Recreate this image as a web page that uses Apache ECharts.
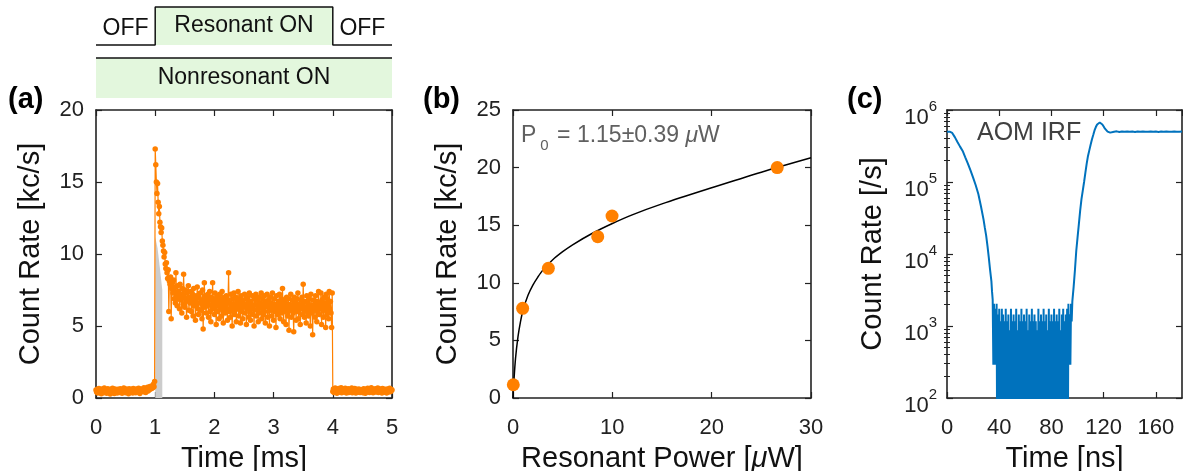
<!DOCTYPE html>
<html><head><meta charset="utf-8">
<script src="https://cdn.jsdelivr.net/npm/echarts@6/dist/echarts.min.js"></script>
<style>html,body{margin:0;padding:0;background:#fff}#c{width:1183px;height:471px}</style>
</head><body><div id="c"></div>
<script>
// ---------------- DATA ----------------
// (a) time trace, bins of 0.01 ms
const binWidthA = 0.01;
const offBeforeStart = 0.0;
const offBeforeRate = [
0.55,0.42,0.61,0.35,0.50,0.66,0.38,0.57,0.47,0.30,
0.62,0.45,0.53,0.36,0.69,0.48,0.41,0.58,0.33,0.55,
0.64,0.40,0.51,0.46,0.28,0.60,0.52,0.37,0.67,0.44,
0.56,0.31,0.63,0.49,0.42,0.58,0.35,0.61,0.47,0.54,
0.39,0.65,0.45,0.52,0.33,0.59,0.48,0.70,0.41,0.55,
0.36,0.62,0.50,0.44,0.57,0.29,0.64,0.46,0.53,0.40,
0.60,0.48,0.35,0.66,0.51,0.43,0.58,0.37,0.62,0.49,
0.54,0.41,0.68,0.45,0.32,0.59,0.52,0.63,0.47,0.56,
0.44,0.71,0.50,0.62,0.38,0.66,0.55,0.74,0.48,0.69,
0.58,0.80,0.62,0.77,0.66,0.85,0.72,0.95,0.78,1.15];
const onStart = 1.0;
const onRate = [
17.3,16.2,15.0,14.2,14.9,13.6,12.8,13.3,12.2,11.9,
11.5,11.8,10.9,10.6,10.2,9.8,10.1,9.3,9.0,9.4,
8.7,8.3,8.9,6.0,8.1,7.9,8.4,5.5,7.6,8.0,
7.3,8.2,6.9,7.7,6.6,8.7,7.1,6.4,7.8,6.9,
7.4,6.2,7.9,6.8,7.2,5.9,7.6,6.5,8.6,7.0,
6.3,7.5,6.7,5.6,7.3,6.9,7.8,6.1,7.0,6.6,
7.4,6.0,6.8,7.2,5.7,7.6,6.4,6.9,5.4,7.1,
6.5,7.7,6.2,5.8,7.0,6.6,7.3,6.1,6.8,5.5,
7.5,4.8,6.7,8.0,6.3,7.1,5.9,6.9,6.4,7.2,
5.6,6.8,7.4,6.0,5.3,7.0,6.5,8.0,6.2,6.9,
5.8,7.3,6.4,5.1,6.8,7.1,6.0,6.6,5.5,7.2,
6.3,6.9,5.7,7.4,6.1,5.2,6.7,7.0,5.9,6.5,
7.1,6.2,5.4,6.8,8.7,6.0,6.6,5.6,7.2,6.3,
5.0,6.9,6.5,7.3,5.8,6.1,7.0,5.3,6.7,6.2,
7.4,5.7,6.4,6.9,5.2,7.1,6.0,6.6,5.5,6.8,
6.3,7.2,5.9,6.5,5.1,7.0,6.2,6.8,5.6,7.3,
6.0,5.4,6.7,6.4,7.1,5.8,6.2,5.0,6.9,6.5,
7.2,5.7,6.1,6.8,5.3,7.0,6.4,5.9,6.6,7.3,
5.5,6.2,6.9,5.8,7.1,6.0,5.2,6.7,6.4,7.2,
5.6,6.3,6.8,5.0,7.0,6.1,6.6,5.7,7.3,6.2,
5.4,6.9,6.0,6.5,4.9,7.1,6.3,5.8,6.7,6.1,
7.2,5.5,6.4,6.9,5.9,7.6,6.2,5.3,6.8,6.0,
6.6,5.1,7.0,6.3,5.7,6.9,4.7,6.5,6.1,7.2,
5.6,6.4,6.8,5.9,4.6,7.0,6.2,6.6,5.4,6.9,
6.0,7.3,5.5,6.5,6.2,5.1,6.8,6.4,7.0,5.8,
7.9,6.1,5.6,6.7,6.3,5.2,7.1,6.0,6.6,5.7,
6.9,6.2,5.0,7.2,6.4,5.9,4.4,6.8,6.1,6.5,
5.6,7.1,6.3,5.3,6.7,6.0,7.4,5.8,6.5,6.2,
7.3,5.1,6.8,6.4,5.6,7.0,6.1,6.6,4.9,7.2,
5.8,6.9,6.3,5.5,7.4,6.0,6.7,5.9,4.9,7.3];
const offAfterStart = 4.0;
const offAfterRate = [
0.45,0.62,0.38,0.55,0.70,0.42,0.58,0.33,0.60,0.50,
0.66,0.40,0.54,0.47,0.72,0.36,0.59,0.44,0.63,0.50,
0.41,0.68,0.52,0.35,0.57,0.46,0.64,0.39,0.55,0.48,
0.61,0.43,0.70,0.37,0.53,0.58,0.42,0.66,0.49,0.34,
0.60,0.45,0.56,0.40,0.63,0.51,0.38,0.58,0.47,0.55,
0.52,0.37,0.64,0.46,0.59,0.33,0.61,0.49,0.43,0.67,
0.50,0.56,0.39,0.62,0.45,0.71,0.48,0.54,0.36,0.60,
0.44,0.57,0.65,0.41,0.53,0.47,0.69,0.38,0.58,0.50,
0.62,0.43,0.55,0.35,0.66,0.49,0.52,0.40,0.61,0.46,
0.57,0.34,0.63,0.48,0.54,0.42,0.68,0.51,0.45,0.59,0.56];
// grey shaded window under the early part of the trace
const greyTime = [1.00, 1.04, 1.08, 1.12];
const greyRate = [11.2, 10.4, 9.0, 7.5];

// timing diagram
const timingEdges = [0, 1, 4, 5];
const resonantState = [0, 1, 0];
const resonantLabels = ['OFF', 'Resonant ON', 'OFF'];
const nonresonantLabel = 'Nonresonant ON';

// (b) saturation
const powerUW = [0.03, 0.97, 3.56, 8.53, 9.97, 26.6];
const powerRate = [1.15, 7.78, 11.26, 14.0, 15.8, 20.0];
const fitPower = [0,0.1,0.25,0.5,0.75,1,1.5,2,2.5,3,4,5,6,8,10,12,15,20,25,30];
const fitRate  = [0,1.6,3.4,5.3,6.6,7.6,8.9,9.8,10.5,11.1,12.0,12.7,13.3,14.3,15.15,15.9,16.85,18.25,19.6,20.85];

// (c) AOM IRF
const irfDecayTime = [0,2,4,6,8,10,12,14,16,18,20,22,24,26,28,29,30,31,32,33,34,34.5];
const irfDecayRate = [5.0e5,5.0e5,4.8e5,4.2e5,3.6e5,3.1e5,2.7e5,2.2e5,1.8e5,1.45e5,1.15e5,9.0e4,6.8e4,4.6e4,3.0e4,2.3e4,1.8e4,1.3e4,9.0e3,6.0e3,4.2e3,3.0e3];
const irfFloorStart = 35, irfFloorStep = 0.5;
const irfFloorRate = [
2320,290,2030,290,1740,290,2030,10,1450,10,1740,10,1160,10,1740,10,1450,10,1160,10,
1740,10,1160,10,1450,10,870,10,1740,10,1160,10,1450,10,1160,10,1740,10,870,10,
1450,10,1160,10,1740,10,1160,10,1450,10,1160,10,1740,10,870,10,1450,10,1160,10,
1740,10,1160,10,1450,10,1160,10,870,10,1740,10,1160,10,1450,10,1160,10,1740,10,
1160,10,1450,10,870,10,1740,10,1160,10,1450,10,1160,10,1740,10,1160,10,1450,10,
1160,10,1740,10,870,10,1450,10,1740,10,1160,10,1450,10,1740,10,2030,290,1450,290,
2030,1160];
const irfRiseTime = [96,97,98,99,100,101,102,103,104,105,106,107,108,109,110,111,112,113,114,115,116,117,118,119,120,121,122,123,124,125,126,
128,130,132,134,136,138,140,142,144,146,148,150,152,154,156,158,160,162,164,166,168,170,172,174,176,178,180];
const irfRiseRate = [2200,3500,6000,1.1e4,1.7e4,2.6e4,4.0e4,5.8e4,7.6e4,1.0e5,1.35e5,1.8e5,2.3e5,2.75e5,3.3e5,3.9e5,4.5e5,5.2e5,5.8e5,6.3e5,6.6e5,6.7e5,6.6e5,6.3e5,5.9e5,5.5e5,5.2e5,5.0e5,4.9e5,4.85e5,4.9e5,
5.0e5,5.05e5,4.95e5,5.02e5,4.97e5,5.03e5,4.98e5,5.01e5,4.96e5,5.04e5,4.99e5,5.02e5,4.97e5,5.0e5,5.03e5,4.98e5,5.01e5,4.96e5,5.02e5,4.99e5,5.03e5,4.97e5,5.0e5,5.02e5,4.98e5,5.0e5,5.01e5];

const yTicksLogMinor = [200,300,400,500,600,700,800,900,2000,3000,4000,5000,6000,7000,8000,9000,
20000,30000,40000,50000,60000,70000,80000,90000,200000,300000,400000,500000,600000,700000,800000,900000];

// ---------------- BUILD ----------------
const FONT = '"Liberation Sans", Arial, sans-serif';
const AX = '#222222';
const ORANGE = '#FF8000';
const BLUE = '#0072BD';
const GREEN = '#E3F7DD';

const traceA = [];
offBeforeRate.forEach((v,i)=>traceA.push([+(offBeforeStart+i*binWidthA).toFixed(3), v]));
onRate.forEach((v,i)=>traceA.push([+(onStart+i*binWidthA).toFixed(3), v]));
offAfterRate.forEach((v,i)=>traceA.push([+(offAfterStart+i*binWidthA).toFixed(3), v]));
const greyA = greyTime.map((t,i)=>[t, greyRate[i]]);
const ptsB = powerUW.map((p,i)=>[p, powerRate[i]]);
const fitB = fitPower.map((p,i)=>[p, fitRate[i]]);
const irf = [];
irfDecayTime.forEach((t,i)=>irf.push([t, irfDecayRate[i]]));
irfFloorRate.forEach((v,i)=>irf.push([irfFloorStart+i*irfFloorStep, v]));
irfRiseTime.forEach((t,i)=>irf.push([t, irfRiseRate[i]]));

// timing diagram geometry in its own hidden grid (y 0..100)
const LOW = 55, HIGH = 93, NR_TOP = 42, NR_BOT = 2;
const resLine = [];
const resAreas = [];
for (let i = 0; i < resonantState.length; i++) {
  const lvl = resonantState[i] ? HIGH : LOW;
  resLine.push([timingEdges[i], lvl], [timingEdges[i+1], lvl]);
  resAreas.push([
    {xAxis: timingEdges[i], yAxis: LOW, name: resonantLabels[i],
     itemStyle: {color: resonantState[i] ? GREEN : 'rgba(0,0,0,0)'}},
    {xAxis: timingEdges[i+1], yAxis: resonantState[i] ? HIGH : LOW + 32}
  ]);
}

const lbl = {color: AX, fontSize: 22, fontFamily: FONT};
const nameStyle = {color: '#111', fontSize: 29, fontFamily: FONT};
function tick(len){ return {show:true, inside:true, length: len||6, lineStyle:{color:AX, width:1.2}}; }
function line(){ return {show:true, onZero:false, lineStyle:{color:AX, width:1.6}}; }
function valAxis(o){
  return Object.assign({type:'value', axisLine: line(), axisTick: tick(), splitLine:{show:false},
    axisLabel: Object.assign({}, lbl)}, o);
}
function hiddenLabels(o){ return valAxis(Object.assign({axisLabel:{show:false}}, o)); }

const option = {
  animation: false,
  backgroundColor: '#fff',
  textStyle: {fontFamily: FONT},
  grid: [
    {left: 96, top: 110, width: 296, height: 288, outerBoundsMode: 'none'},
    {left: 513, top: 110, width: 298, height: 288, outerBoundsMode: 'none'},
    {left: 947, top: 110, width: 235, height: 288, outerBoundsMode: 'none'},
    {left: 96, top: 0, width: 296, height: 100, outerBoundsMode: 'none'}
  ],
  xAxis: [
    valAxis({gridIndex:0, min:0, max:5, interval:1, position:'bottom',
      axisLabel: Object.assign({margin:19}, lbl),
      name:'Time [ms]', nameLocation:'middle', nameGap:46, nameTextStyle:nameStyle}),
    hiddenLabels({gridIndex:0, min:0, max:5, interval:1, position:'top'}),
    valAxis({gridIndex:1, min:0, max:30, interval:10, position:'bottom',
      axisLabel: Object.assign({margin:19}, lbl),
      name:'Resonant Power [{i|μ}W]', nameLocation:'middle', nameGap:46,
      nameTextStyle: Object.assign({rich:{i:{fontStyle:'italic', fontSize:29, color:'#111', fontFamily:FONT}}}, nameStyle)}),
    hiddenLabels({gridIndex:1, min:0, max:30, interval:10, position:'top'}),
    valAxis({gridIndex:2, min:0, max:180, interval:40, position:'bottom',
      axisLabel: Object.assign({margin:19, showMaxLabel:false}, lbl),
      name:'Time [ns]', nameLocation:'middle', nameGap:46, nameTextStyle:nameStyle}),
    hiddenLabels({gridIndex:2, min:0, max:180, interval:40, position:'top'}),
    {type:'value', gridIndex:3, min:0, max:5, show:false}
  ],
  yAxis: [
    valAxis({gridIndex:0, min:0, max:20, interval:5, position:'left',
      axisLabel: Object.assign({margin:12}, lbl),
      name:'Count Rate [kc/s]', nameLocation:'middle', nameGap:51, nameTextStyle:nameStyle}),
    hiddenLabels({gridIndex:0, min:0, max:20, interval:5, position:'right'}),
    valAxis({gridIndex:1, min:0, max:25, interval:5, position:'left',
      axisLabel: Object.assign({margin:12}, lbl),
      name:'Count Rate [kc/s]', nameLocation:'middle', nameGap:51, nameTextStyle:nameStyle}),
    hiddenLabels({gridIndex:1, min:0, max:25, interval:5, position:'right'}),
    {type:'log', logBase:10, gridIndex:2, min:100, max:1e6, position:'left',
      axisLine: line(), axisTick: tick(), splitLine:{show:false},
      axisLabel:{margin:10, padding:[16,0,0,0],
        formatter: v => '{b|10}{s|' + Math.round(Math.log10(v)) + '}',
        rich:{b:{fontSize:22, lineHeight:37, color:AX, fontFamily:FONT},
              s:{fontSize:15, lineHeight:15, verticalAlign:'top', color:AX, fontFamily:FONT}}},
      name:'Count Rate [/s]', nameLocation:'middle', nameGap:60, nameTextStyle:nameStyle},
    {type:'log', logBase:10, gridIndex:2, min:100, max:1e6, position:'right',
      axisLine: line(), axisTick: tick(), splitLine:{show:false}, axisLabel:{show:false}},
    {type:'log', logBase:10, gridIndex:2, min:100, max:1e6, position:'left',
      axisLine:{show:false}, splitLine:{show:false}, axisLabel:{show:false},
      axisTick:{show:true, inside:true, length:3, customValues: yTicksLogMinor, lineStyle:{color:AX, width:1}}},
    {type:'log', logBase:10, gridIndex:2, min:100, max:1e6, position:'right',
      axisLine:{show:false}, splitLine:{show:false}, axisLabel:{show:false},
      axisTick:{show:true, inside:true, length:3, customValues: yTicksLogMinor, lineStyle:{color:AX, width:1}}},
    {type:'value', gridIndex:3, min:0, max:100, show:false}
  ],
  series: [
    {type:'line', xAxisIndex:0, yAxisIndex:0, data: greyA, symbol:'none', z:1,
      lineStyle:{width:0}, areaStyle:{color:'#CCCCCC', opacity:1}},
    {type:'line', xAxisIndex:0, yAxisIndex:0, data: traceA, z:3,
      symbol:'circle', symbolSize:5.5, itemStyle:{color:ORANGE},
      lineStyle:{color:ORANGE, width:1.2}},
    {type:'line', xAxisIndex:2, yAxisIndex:2, data: fitB, smooth:0.3, symbol:'none', z:2,
      lineStyle:{color:'#000', width:1.5}},
    {type:'scatter', xAxisIndex:2, yAxisIndex:2, data: ptsB, symbolSize:13, z:3,
      itemStyle:{color:ORANGE, opacity:1}},
    {type:'line', xAxisIndex:4, yAxisIndex:4, data: irf, symbol:'none', z:2,
      lineStyle:{color:BLUE, width:2}},
    {type:'line', xAxisIndex:6, yAxisIndex:8, data: resLine, symbol:'none', clip:false,
      lineStyle:{color:'#111', width:1.5},
      markArea:{silent:true, data: resAreas,
        label:{show:true, position:'inside', color:'#111', fontSize:23, fontFamily:FONT}}},
    {type:'line', xAxisIndex:6, yAxisIndex:8, data: [[timingEdges[0], NR_TOP],[timingEdges[3], NR_TOP]],
      symbol:'none', clip:false, lineStyle:{color:'#111', width:1.5},
      markArea:{silent:true, itemStyle:{color:GREEN},
        label:{show:true, position:'inside', color:'#111', fontSize:23, fontFamily:FONT},
        data:[[{xAxis:timingEdges[0], yAxis:NR_BOT, name:nonresonantLabel},{xAxis:timingEdges[3], yAxis:NR_TOP}]]}}
  ],
  graphic: [
    {type:'text', x:8, y:100, style:{text:'(a)', font:'bold 29px ' + FONT, fill:'#000', verticalAlign:'middle'}},
    {type:'text', x:423, y:100, style:{text:'(b)', font:'bold 29px ' + FONT, fill:'#000', verticalAlign:'middle'}},
    {type:'text', x:847, y:100, style:{text:'(c)', font:'bold 29px ' + FONT, fill:'#000', verticalAlign:'middle'}},
    {type:'text', x:521, y:136, z:10, style:{
      text:'{n|P}{s|0}{n| = 1.15±0.39 }{i|μ}{n|W}', verticalAlign:'middle',
      rich:{n:{fontSize:23, lineHeight:34, fill:'#606060', fontFamily:FONT},
            i:{fontSize:23, lineHeight:34, fontStyle:'italic', fill:'#606060', fontFamily:FONT},
            s:{fontSize:15, lineHeight:15, verticalAlign:'bottom', fill:'#606060', fontFamily:FONT, padding:[0,2,0,4]}}}},
    {type:'text', x:977, y:133, z:10, style:{text:'AOM IRF', font:'25px ' + FONT, fill:'#404040', verticalAlign:'middle'}}
  ]
};
const chart = echarts.init(document.getElementById('c'), null, {renderer:'canvas'});
chart.setOption(option);
</script></body></html>
